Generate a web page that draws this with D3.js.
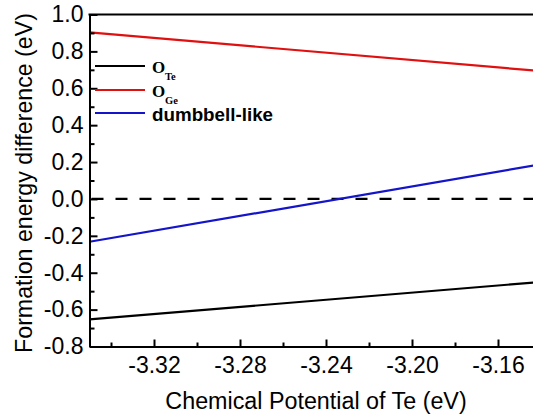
<!DOCTYPE html>
<html><head><meta charset="utf-8">
<script src="https://cdn.jsdelivr.net/npm/d3@7"></script>
<style>
html,body{margin:0;padding:0;background:#fff;}
svg{display:block;}
text{font-family:Arial,"Liberation Sans",sans-serif;}
</style></head>
<body>
<svg id="chart" width="533" height="418"></svg>
<script>
// ---- data ----
const xValues = [-3.35, -3.14];
const seriesNames = ["O_Te", "O_Ge", "dumbbell-like"];
const oTe = [-0.653, -0.450];
const oGe = [0.903, 0.693];
const dumbbell = [-0.232, 0.188];
const referenceLine = [0.0, 0.0];
const xMajorTicks = [-3.32, -3.28, -3.24, -3.20, -3.16];
const xTickLabels = ["-3.32", "-3.28", "-3.24", "-3.20", "-3.16"];
const xMinorTicks = [-3.34, -3.30, -3.26, -3.22, -3.18, -3.14];
const yMajorTicks = [1.0, 0.8, 0.6, 0.4, 0.2, 0.0, -0.2, -0.4, -0.6, -0.8];
const yTickLabels = ["1.0", "0.8", "0.6", "0.4", "0.2", "0.0", "-0.2", "-0.4", "-0.6", "-0.8"];
const yMinorTicks = [0.9, 0.7, 0.5, 0.3, 0.1, -0.1, -0.3, -0.5, -0.7];

const series = [
  {name: "O_Te", values: oTe, color: "#000000"},
  {name: "O_Ge", values: oGe, color: "#e01010"},
  {name: "dumbbell-like", values: dumbbell, color: "#1414c8"}
];

// ---- layout ----
const svg = d3.select("#chart");
const L = 89.5, T = 14.5, B = 346.5;
const x = d3.scaleLinear().domain([-3.35, -3.14]).range([L, L + 0.21 * 2150]);
const y = d3.scaleLinear().domain([-0.8, 1.0]).range([B, T]);
const R = x(-3.14);

svg.append("defs").append("clipPath").attr("id", "clip")
  .append("rect").attr("x", L).attr("y", T).attr("width", R - L).attr("height", B - T);

// data lines
const line = d3.line().x((d, i) => x(xValues[i])).y(d => y(d));
const plot = svg.append("g").attr("clip-path", "url(#clip)");
plot.append("path").datum(referenceLine).attr("d", line)
  .attr("fill", "none").attr("stroke", "#000").attr("stroke-width", 2.2)
  .attr("stroke-dasharray", "12,12").attr("stroke-dashoffset", -2);
series.forEach(s => {
  plot.append("path").datum(s.values).attr("d", line)
    .attr("fill", "none").attr("stroke", s.color).attr("stroke-width", 2.2);
});

// axes
const xAxisMajor = d3.axisBottom(x).tickValues(xMajorTicks)
  .tickFormat((d, i) => xTickLabels[i]).tickSizeInner(-7).tickSizeOuter(0).tickPadding(10);
const xAxisMinor = d3.axisBottom(x).tickValues(xMinorTicks).tickFormat("").tickSizeInner(-4).tickSizeOuter(0);
const yAxisMajor = d3.axisLeft(y).tickValues(yMajorTicks)
  .tickFormat((d, i) => yTickLabels[i]).tickSizeInner(-8).tickSizeOuter(0).tickPadding(6);
const yAxisMinor = d3.axisLeft(y).tickValues(yMinorTicks).tickFormat("").tickSizeInner(-5).tickSizeOuter(0);

function style(g) {
  g.selectAll("path.domain").attr("stroke", "#000").attr("stroke-width", 2);
  g.selectAll("line").attr("stroke", "#000").attr("stroke-width", 2);
  g.selectAll("text").attr("fill", "#000").style("font-size", "23px")
    .style("font-family", "Arial, 'Liberation Sans', sans-serif");
}
svg.append("g").attr("transform", `translate(0,${B})`).call(xAxisMinor).call(style);
svg.append("g").attr("transform", `translate(0,${B})`).call(xAxisMajor).call(style);
svg.append("g").attr("transform", `translate(${L},0)`).call(yAxisMinor).call(style);
svg.append("g").attr("transform", `translate(${L},0)`).call(yAxisMajor).call(style);
// top frame
svg.append("line").attr("x1", L - 1).attr("x2", R).attr("y1", T).attr("y2", T)
  .attr("stroke", "#000").attr("stroke-width", 2);

// axis titles
svg.append("text").attr("x", 316).attr("y", 409).attr("text-anchor", "middle")
  .style("font-size", "23.3px").text("Chemical Potential of Te (eV)");
svg.append("text").attr("transform", "translate(32,183) rotate(-90)").attr("text-anchor", "middle")
  .style("font-size", "23.2px").text("Formation energy difference (eV)");

// legend
const legendY = [66, 90, 113];
const lg = svg.append("g");
series.forEach((s, i) => {
  const yy = legendY[i];
  lg.append("line").attr("x1", 95).attr("x2", 145).attr("y1", yy).attr("y2", yy)
    .attr("stroke", s.color).attr("stroke-width", 2.2);
  if (s.name.startsWith("O_")) {
    lg.append("text").attr("x", 152).attr("y", yy + 7)
      .style("font-family", "'Liberation Serif','Times New Roman',serif")
      .style("font-weight", "bold").style("font-size", "17px").text("O");
    lg.append("text").attr("x", 165).attr("y", yy + 13.5)
      .style("font-family", "'Liberation Serif','Times New Roman',serif")
      .style("font-weight", "bold").style("font-size", "10.5px").text(s.name.slice(2));
  } else {
    lg.append("text").attr("x", 152).attr("y", yy + 8)
      .style("font-weight", "bold").style("font-size", "18.8px").text(s.name);
  }
});
</script>
</body></html>
